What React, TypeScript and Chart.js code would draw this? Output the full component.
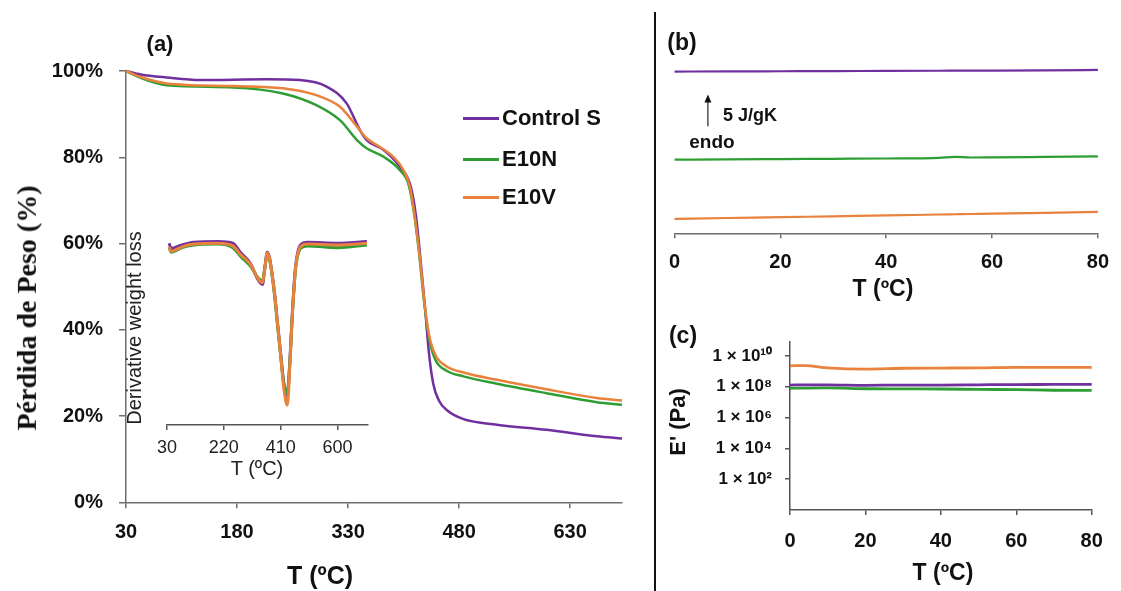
import React, { useEffect, useRef } from "react";
import { Chart, registerables } from "chart.js";

Chart.register(...registerables);

const PURPLE = "#7030A0";
const GREEN = "#2E9E34";
const ORANGE = "#E8823C";
const SANS = "'Liberation Sans', Arial, Helvetica, sans-serif";
const SERIF = "'Liberation Serif', 'Times New Roman', serif";

// ---------- (a) TGA: weight (%) vs T (ºC) ----------
const tgaTicksX = [30, 180, 330, 480, 630];
const tgaTicksY = [0, 20, 40, 60, 80, 100];
const tgaControlT = [30, 50, 85, 130, 220, 265, 301, 328, 346, 355, 378, 400, 415, 422, 428, 434, 439, 445, 453, 464, 486, 531, 598, 666, 700];
const tgaControlW = [100, 99.2, 98.5, 97.9, 98.1, 97.9, 96.4, 92.5, 86.3, 84.0, 81.7, 77.8, 73, 66, 56, 45, 35, 27.5, 23.5, 21.3, 19.3, 18.0, 16.8, 15.3, 14.8];
const tgaE10NT = [30, 50, 85, 175, 242, 287, 319, 342, 355, 378, 400, 412, 420, 427, 433, 440, 448, 463, 486, 531, 598, 666, 700];
const tgaE10NW = [100, 98.4, 96.7, 96.2, 94.8, 92.1, 88.6, 84.0, 82.1, 80.1, 77.0, 73.5, 66, 56, 46, 37.5, 33, 30.5, 29.2, 27.5, 25.3, 23.2, 22.6];
const tgaE10VT = [30, 50, 85, 175, 242, 287, 319, 342, 355, 373, 391, 405, 414, 421, 428, 434, 441, 449, 463, 486, 531, 598, 666, 700];
const tgaE10VW = [100, 98.6, 97.1, 96.5, 96.0, 94.4, 91.7, 87.1, 84.4, 82.4, 80.1, 77.0, 72.8, 65, 55, 45, 37.5, 33.8, 31.5, 30.1, 28.4, 26.2, 24.2, 23.6];

// ---------- (a) inset: derivative weight loss ----------
const dtgTicksX = [30, 220, 410, 600];
const dtgT = [37, 44, 55, 80, 120, 200, 250, 277, 310, 333, 349, 357, 365, 372, 380, 390, 398, 409, 420, 432, 440, 448, 459, 476, 500, 600, 698];
const dtgControl = [0.0, -0.06, -0.05, -0.02, 0.01, 0.02, 0, -0.11, -0.23, -0.4, -0.46, -0.27, -0.1, -0.15, -0.31, -0.57, -0.84, -1.2, -1.55, -1.72, -1.35, -0.83, -0.28, -0.02, 0.01, 0.0, 0.02];
const dtgE10N = [-0.05, -0.1, -0.09, -0.05, -0.02, -0.01, -0.05, -0.15, -0.26, -0.38, -0.42, -0.27, -0.12, -0.17, -0.33, -0.6, -0.87, -1.22, -1.55, -1.66, -1.35, -0.84, -0.31, -0.06, -0.03, -0.05, -0.02];
const dtgE10V = [-0.04, -0.09, -0.08, -0.04, -0.01, 0, -0.03, -0.13, -0.24, -0.39, -0.44, -0.28, -0.11, -0.16, -0.32, -0.58, -0.85, -1.22, -1.6, -1.8, -1.4, -0.85, -0.3, -0.04, -0.01, -0.02, 0];

// ---------- (b) DSC heat flow (shifted, J/gK) ----------
const dscTicksX = [0, 20, 40, 60, 80];
const dscT = [0, 10, 20, 30, 40, 50, 53, 56, 60, 70, 80];
const dscControl = [25.4, 25.42, 25.45, 25.48, 25.5, 25.53, 25.54, 25.55, 25.56, 25.6, 25.65];
const dscE10N = [11.56, 11.6, 11.65, 11.7, 11.75, 11.86, 12.0, 11.9, 11.92, 12.0, 12.08];
const dscE10V = [2.26, 2.4, 2.53, 2.67, 2.8, 2.95, 2.99, 3.03, 3.08, 3.22, 3.36];
const dscArrowT = 6.3;
const dscArrowFrom = 16.8;
const dscArrowTo = 21.8; // 5 J/gK

// ---------- (c) DMA storage modulus E' (Pa) ----------
const dmaTicksX = [0, 20, 40, 60, 80];
const dmaTickValues = [1e2, 1e4, 1e6, 1e8, 1e10];
const dmaTickLabels = ["1 × 10²", "1 × 10⁴", "1 × 10⁶", "1 × 10⁸", "1 × 10¹⁰"];
const dmaT = [0, 4, 10, 20, 30, 40, 50, 60, 70, 80];
const dmaControl = [1.3e8, 1.35e8, 1.35e8, 1.25e8, 1.3e8, 1.3e8, 1.35e8, 1.4e8, 1.42e8, 1.45e8];
const dmaE10N = [8e7, 8.3e7, 8.5e7, 7.5e7, 7.3e7, 7.2e7, 6.8e7, 6.5e7, 6e7, 5.9e7];
const dmaE10V = [2.3e9, 2.4e9, 1.7e9, 1.4e9, 1.6e9, 1.65e9, 1.7e9, 1.85e9, 1.85e9, 1.85e9];

const seriesNames = ["Control S", "E10N", "E10V"];
const seriesColors = [PURPLE, GREEN, ORANGE];

function pts(xs: number[], ys: number[]) {
  return xs.map((x, i) => ({ x, y: ys[i] }));
}

function line(label: string, data: any[], color: string, width: number, order: number) {
  return {
    label,
    data,
    borderColor: color,
    backgroundColor: color,
    borderWidth: width,
    pointRadius: 0,
    fill: false,
    cubicInterpolationMode: "monotone",
    clip: false,
    order,
  };
}

function setTicks(values: number[]) {
  return (scale: any) => {
    scale.ticks = values.map((v) => ({ value: v }));
  };
}

function axisX(opts: any) {
  const { min, max, ticks, height, color, size, weight, padding, tickLength, labelColor } = opts;
  return {
    type: "linear",
    min,
    max,
    afterBuildTicks: setTicks(ticks),
    afterFit: (s: any) => {
      s.height = height;
    },
    grid: { display: true, drawOnChartArea: false, drawTicks: true, tickLength, color, lineWidth: 1.5 },
    border: { display: true, color, width: 1.5 },
    ticks: {
      autoSkip: false,
      maxRotation: 0,
      minRotation: 0,
      padding,
      color: labelColor || "#111",
      font: { family: SANS, size, weight },
    },
  };
}

const basePlugins = { legend: { display: false }, tooltip: { enabled: false }, title: { display: false } };

function configA() {
  return {
    type: "line",
    data: {
      datasets: [
        line("E10V", pts(tgaE10VT, tgaE10VW), ORANGE, 2.5, 0),
        line("E10N", pts(tgaE10NT, tgaE10NW), GREEN, 2.5, 1),
        line("Control S", pts(tgaControlT, tgaControlW), PURPLE, 2.5, 2),
      ],
    },
    options: {
      animation: false,
      responsive: false,
      maintainAspectRatio: false,
      layout: { padding: { left: 0, right: 33, top: 71, bottom: 0 } },
      plugins: basePlugins,
      scales: {
        x: axisX({ min: 30, max: 700, ticks: tgaTicksX, height: 88.7, color: "#6e6e6e", size: 20, weight: "bold", padding: 12, tickLength: 6 }),
        y: {
          type: "linear",
          min: 0,
          max: 100,
          afterBuildTicks: setTicks(tgaTicksY),
          afterFit: (s: any) => {
            s.width = 126;
          },
          grid: { display: true, drawOnChartArea: false, drawTicks: true, tickLength: 7, color: "#6e6e6e", lineWidth: 1.5 },
          border: { display: true, color: "#6e6e6e", width: 1.5 },
          ticks: {
            padding: 16,
            color: "#111",
            font: { family: SANS, size: 20, weight: "bold" },
            callback: (v: number) => v + "%",
          },
        },
      },
    },
  };
}

function configInset() {
  return {
    type: "line",
    data: {
      datasets: [
        line("E10V", pts(dtgT, dtgE10V), ORANGE, 3, 0),
        line("E10N", pts(dtgT, dtgE10N), GREEN, 3, 1),
        line("Control S", pts(dtgT, dtgControl), PURPLE, 3, 2),
      ],
    },
    options: {
      animation: false,
      responsive: false,
      maintainAspectRatio: false,
      layout: { padding: { left: 15.7, right: 12.5, top: 11, bottom: 0 } },
      plugins: basePlugins,
      scales: {
        x: axisX({ min: 30, max: 700, ticks: dtgTicksX, height: 60, color: "#555", size: 18, weight: "normal", padding: 7, tickLength: 5, labelColor: "#222" }),
        y: { type: "linear", display: false, min: -2.02, max: 0.08 },
      },
    },
  };
}

const arrowPlugin = {
  id: "endoArrow",
  afterDatasetsDraw(chart: any) {
    const { ctx, scales } = chart;
    const px = scales.x.getPixelForValue(dscArrowT);
    const yb = scales.y.getPixelForValue(dscArrowFrom);
    const yt = scales.y.getPixelForValue(dscArrowTo);
    ctx.save();
    ctx.strokeStyle = "#222";
    ctx.fillStyle = "#111";
    ctx.lineWidth = 1.2;
    ctx.beginPath();
    ctx.moveTo(px, yb);
    ctx.lineTo(px, yt + 7);
    ctx.stroke();
    ctx.beginPath();
    ctx.moveTo(px, yt);
    ctx.lineTo(px - 3.5, yt + 8);
    ctx.lineTo(px + 3.5, yt + 8);
    ctx.closePath();
    ctx.fill();
    ctx.restore();
  },
};

function configB() {
  return {
    type: "line",
    data: {
      datasets: [
        line("Control S", pts(dscT, dscControl), PURPLE, 2.2, 0),
        line("E10N", pts(dscT, dscE10N), GREEN, 2.2, 1),
        line("E10V", pts(dscT, dscE10V), ORANGE, 2.2, 2),
      ],
    },
    options: {
      animation: false,
      responsive: false,
      maintainAspectRatio: false,
      layout: { padding: { left: 13, right: 15.3, top: 55, bottom: 0 } },
      plugins: basePlugins,
      scales: {
        x: axisX({ min: 0, max: 80, ticks: dscTicksX, height: 76.7, color: "#6e6e6e", size: 20, weight: "bold", padding: 12, tickLength: 5 }),
        y: { type: "linear", display: false, min: 0, max: 28 },
      },
    },
    plugins: [arrowPlugin],
  };
}

function configC() {
  return {
    type: "line",
    data: {
      datasets: [
        line("E10V", pts(dmaT, dmaE10V), ORANGE, 2.8, 0),
        line("Control S", pts(dmaT, dmaControl), PURPLE, 2.8, 1),
        line("E10N", pts(dmaT, dmaE10N), GREEN, 2.8, 2),
      ],
    },
    options: {
      animation: false,
      responsive: false,
      maintainAspectRatio: false,
      layout: { padding: { left: 0, right: 29.3, top: 31.7, bottom: 0 } },
      plugins: basePlugins,
      scales: {
        x: axisX({ min: 0, max: 80, ticks: dmaTicksX, height: 81, color: "#555", size: 20, weight: "bold", padding: 14, tickLength: 5 }),
        y: {
          type: "logarithmic",
          min: 1,
          max: 8.5e10,
          afterBuildTicks: setTicks(dmaTickValues),
          afterFit: (s: any) => {
            s.width = 133;
          },
          grid: { display: true, drawOnChartArea: false, drawTicks: true, tickLength: 5, color: "#555", lineWidth: 1.5 },
          border: { display: true, color: "#555", width: 1.5 },
          ticks: {
            autoSkip: false,
            padding: 13,
            color: "#111",
            font: { family: SANS, size: 17, weight: "bold" },
            callback: (_v: number, i: number) => dmaTickLabels[i],
          },
        },
      },
    },
  };
}

function ChartCanvas(props: { make: () => any; left: number; top: number; width: number; height: number }) {
  const ref = useRef<HTMLCanvasElement>(null);
  useEffect(() => {
    const chart = new Chart(ref.current as HTMLCanvasElement, props.make());
    return () => chart.destroy();
  }, []);
  return (
    <canvas
      ref={ref}
      width={props.width}
      height={props.height}
      style={{ position: "absolute", left: props.left, top: props.top, width: props.width, height: props.height }}
    />
  );
}

function Txt(props: {
  x: number;
  y: number;
  size: number;
  text: string;
  weight?: string;
  family?: string;
  rotate?: boolean;
  left?: boolean;
  color?: string;
}) {
  const { x, y, size, text, weight = "bold", family = SANS, rotate = false, left = false, color = "#111" } = props;
  return (
    <div
      style={{
        position: "absolute",
        left: x,
        top: y,
        transform: `translate(${left ? "0" : "-50%"}, -50%)${rotate ? " rotate(-90deg)" : ""}`,
        font: `${weight} ${size}px ${family}`,
        lineHeight: 1.15,
        whiteSpace: "nowrap",
        color,
      }}
    >
      {text}
    </div>
  );
}

const legendY = [118, 159, 197];

export default function App() {
  return (
    <div style={{ position: "absolute", left: 0, top: 0, width: 1121, height: 591, background: "#fff", overflow: "hidden" }}>
      <ChartCanvas make={configA} left={0} top={0} width={655} height={591} />
      <ChartCanvas make={configInset} left={150} top={225} width={230} height={260} />
      <ChartCanvas make={configB} left={657} top={0} width={464} height={310} />
      <ChartCanvas make={configC} left={657} top={310} width={464} height={281} />

      {/* divider */}
      <div style={{ position: "absolute", left: 654, top: 12, width: 2, height: 579, background: "#111" }} />

      {/* panel (a) texts */}
      <Txt x={160} y={44} size={22} text="(a)" />
      <Txt x={27} y={308} size={28} text="Pérdida de Peso (%)" family={SERIF} rotate />
      <Txt x={320} y={575} size={25} text="T (ºC)" />
      <Txt x={257} y={468} size={20} weight="normal" text="T (ºC)" color="#222" />
      <Txt x={134} y={328} size={20} weight="normal" text="Derivative weight loss" rotate color="#222" />
      {seriesNames.map((name, i) => (
        <React.Fragment key={name}>
          <div style={{ position: "absolute", left: 463, top: legendY[i] - 1.5, width: 36, height: 3, background: seriesColors[i] }} />
          <Txt x={502} y={legendY[i]} size={22} text={name} left />
        </React.Fragment>
      ))}

      {/* panel (b) texts */}
      <Txt x={682} y={42} size={23} text="(b)" />
      <Txt x={723} y={115} size={18} text="5 J/gK" left />
      <Txt x={712} y={142} size={19} text="endo" />
      <Txt x={883} y={288} size={23} text="T (ºC)" />

      {/* panel (c) texts */}
      <Txt x={683} y={335} size={23} text="(c)" />
      <Txt x={678} y={422} size={22} text="E' (Pa)" rotate />
      <Txt x={943} y={572} size={23} text="T (ºC)" />
    </div>
  );
}
